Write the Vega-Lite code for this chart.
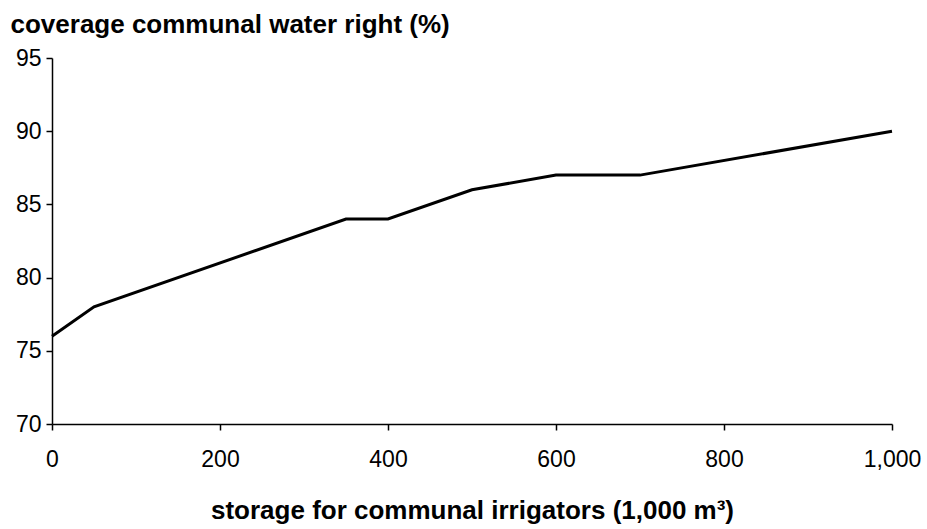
{
  "$schema": "https://vega.github.io/schema/vega-lite/v6.json",
  "width": 840,
  "height": 366,
  "autosize": {"type": "none"},
  "padding": {"left": 52, "top": 58, "right": 35, "bottom": 105},
  "background": "white",
  "config": {
    "view": {"stroke": null},
    "axis": {
      "domainColor": "black",
      "tickColor": "black",
      "labelColor": "black",
      "titleColor": "black",
      "labelFont": "Liberation Sans",
      "titleFont": "Liberation Sans",
      "labelFontSize": 23,
      "titleFontSize": 26,
      "titleFontWeight": "bold",
      "grid": false,
      "tickSize": 6,
      "domainWidth": 1.5,
      "tickWidth": 1.5
    }
  },
  "data": {
    "values": [
      {"storage": 0, "coverage": 76},
      {"storage": 50, "coverage": 78},
      {"storage": 350, "coverage": 84},
      {"storage": 400, "coverage": 84},
      {"storage": 500, "coverage": 86},
      {"storage": 600, "coverage": 87},
      {"storage": 700, "coverage": 87},
      {"storage": 1000, "coverage": 90}
    ]
  },
  "mark": {"type": "line", "color": "black", "strokeWidth": 3},
  "encoding": {
    "x": {
      "field": "storage",
      "type": "quantitative",
      "scale": {"domain": [0, 1000], "nice": false},
      "axis": {
        "values": [0, 200, 400, 600, 800, 1000],
        "format": ",.0f",
        "labelPadding": 18,
        "title": "storage for communal irrigators (1,000 m³)",
        "titleBaseline": "middle",
        "titleY": 86,
        "labelFlush": false
      }
    },
    "y": {
      "field": "coverage",
      "type": "quantitative",
      "scale": {"domain": [70, 95], "nice": false, "zero": false},
      "axis": {
        "values": [70, 75, 80, 85, 90, 95],
        "labelPadding": 5,
        "title": "coverage communal water right (%)",
        "titleAngle": 0,
        "titleAlign": "left",
        "titleBaseline": "middle",
        "titleX": -42,
        "titleY": -34
      }
    }
  }
}
